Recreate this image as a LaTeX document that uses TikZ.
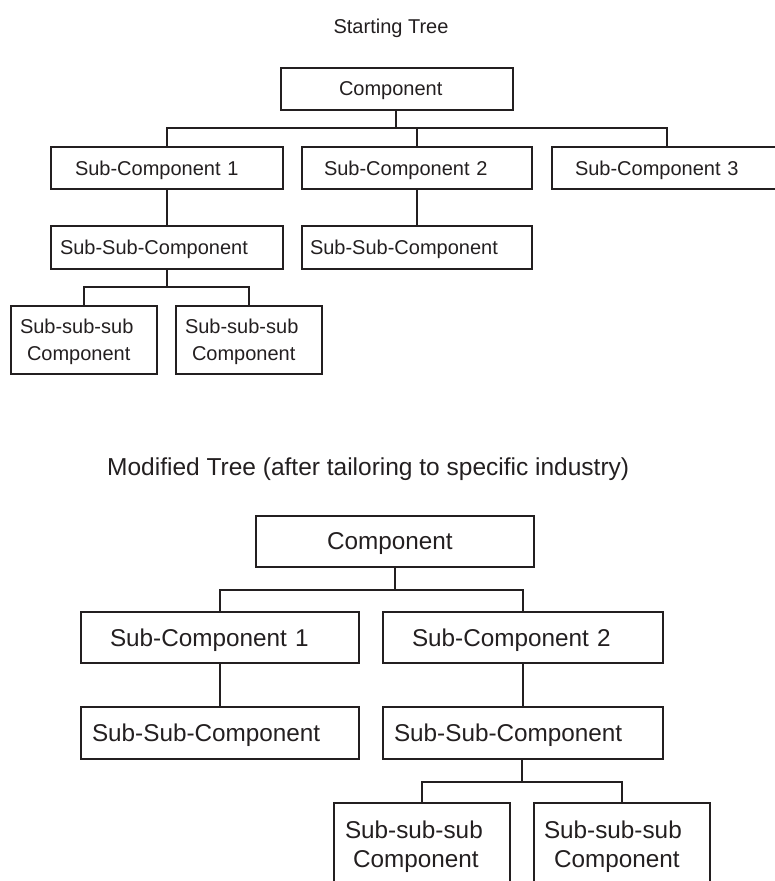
\documentclass[tikz,border=0pt]{standalone}
\usepackage{fontspec}
\setmainfont{Liberation Sans}
\definecolor{inkc}{HTML}{231F20}
\begin{document}
\begin{tikzpicture}[x=1pt,y=-1pt,
  wire/.style={draw=inkc, line width=1.5pt},
  box/.style={wire, rectangle, anchor=north west, outer sep=0pt,
              inner ysep=0pt, align=left, text=inkc},
  oneline/.style={text depth=0pt},
  small/.style={font=\fontsize{20}{27}\selectfont},
  large/.style={font=\fontsize{24.3}{29}\selectfont},
  twolines small/.style={small, text depth=27pt},
  twolines large/.style={large, text depth=29pt},
  heading/.style={text=inkc, inner sep=0pt}]
\useasboundingbox (0,0) rectangle (774,881);

% ---------- starting tree ----------
\node[heading, small, anchor=base] (t1) at (391,33) {Starting Tree};

\node[box, oneline, small, inner xsep=58pt, text width=116pt, minimum height=42pt] (c) at (281,68) {Component};

\node[box, oneline, small, inner xsep=24pt, text width=184pt, minimum height=42pt] (s1) at (51,147) {Sub-Component 1};
\node[box, oneline, small, inner xsep=22pt, text width=186pt, minimum height=42pt] (s2) at (302,147) {Sub-Component 2};
\node[box, oneline, small, inner xsep=23pt, text width=184pt, minimum height=42pt] (s3) at (552,147) {Sub-Component 3};

\node[box, oneline, small, inner xsep=9pt, text width=214pt, minimum height=43pt] (ss1) at (51,226) {Sub-Sub-Component};
\node[box, oneline, small, inner xsep=8pt, text width=214pt, minimum height=43pt] (ss2) at (302,226) {Sub-Sub-Component};

\node[box, twolines small, inner xsep=9pt, text width=128pt, minimum height=68pt] (l1) at (11,306) {Sub-sub-sub\\\hspace*{7pt}Component};
\node[box, twolines small, inner xsep=9pt, text width=128pt, minimum height=68pt] (l2) at (176,306) {Sub-sub-sub\\\hspace*{7pt}Component};

\coordinate (j1) at (396,128);
\coordinate (j2) at (167,287);

\draw[wire] (c.south -| j1) -- (j1);
\draw[wire] (s1.north) |- (j1) -| (s3.north);
\draw[wire] (s2.north) -- (s2.north |- j1);
\draw[wire] (s1.south) -- (ss1.north);
\draw[wire] (s2.south) -- (ss2.north);
\draw[wire] (ss1.south) -- (j2);
\draw[wire] (l1.north) |- (j2) -| (l2.north);

% ---------- modified tree ----------
\node[heading, font=\fontsize{24.5}{29}\selectfont, anchor=base west] (t2) at (107,475) {Modified Tree (after tailoring to specific industry)};

\node[box, oneline, large, inner xsep=71pt, text width=136pt, minimum height=51pt] (C) at (256,516) {Component};

\node[box, oneline, large, inner xsep=29pt, text width=220pt, minimum height=51pt] (S1) at (81,612) {Sub-Component 1};
\node[box, oneline, large, inner xsep=29pt, text width=222pt, minimum height=51pt] (S2) at (383,612) {Sub-Component 2};

\node[box, oneline, large, inner xsep=11pt, text width=256pt, minimum height=52pt] (SS1) at (81,707) {Sub-Sub-Component};
\node[box, oneline, large, inner xsep=11pt, text width=258pt, minimum height=52pt] (SS2) at (383,707) {Sub-Sub-Component};

\node[box, twolines large, inner xsep=11pt, text width=154pt, minimum height=83pt] (L1) at (334,803) {Sub-sub-sub\\\hspace*{8pt}Component};
\node[box, twolines large, inner xsep=10pt, text width=156pt, minimum height=83pt] (L2) at (534,803) {Sub-sub-sub\\\hspace*{10pt}Component};

\coordinate (k1) at (395,590);
\coordinate (k2) at (522,782);

\draw[wire] (C.south -| k1) -- (k1);
\draw[wire] (S1.north) |- (k1) -| (S2.north);
\draw[wire] (S1.south) -- (SS1.north);
\draw[wire] (S2.south) -- (SS2.north);
\draw[wire] (SS2.south -| k2) -- (k2);
\draw[wire] (L1.north) |- (k2) -| (L2.north);
\end{tikzpicture}
\end{document}
